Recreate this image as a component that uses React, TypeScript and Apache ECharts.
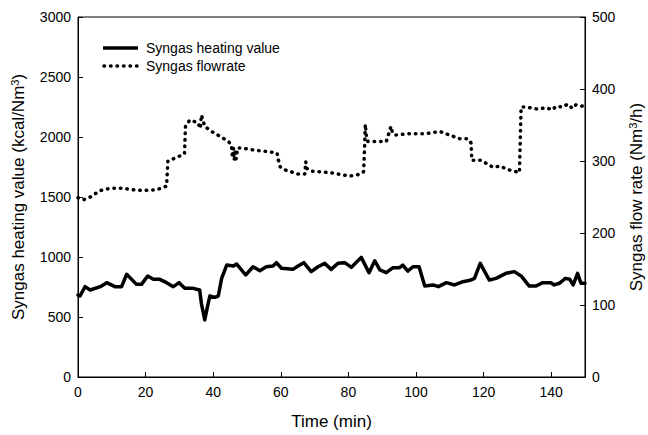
import React, { useEffect, useRef } from "react";
import * as echarts from "echarts";

const hvTime = [0, 0.6, 2.1, 3.6, 6.6, 8.5, 10.9, 12.9, 14.4, 17.3, 18.8, 20.6, 22.3, 24.2, 26.2, 28.2, 29.9, 31.6, 34.1, 36, 36.5, 37.5, 38.2, 39, 40.5, 41.5, 42.5, 44, 46, 46.9, 49.6, 51.8, 53.8, 55.7, 57.7, 58.7, 60.2, 63.6, 65.1, 66.8, 69, 71, 73, 74.9, 76.9, 78.9, 80.9, 83.8, 86.1, 87.8, 89.3, 91.2, 93.2, 95.1, 96.1, 97.6, 99.1, 100.9, 102.6, 105.1, 106.6, 109, 111.4, 113.9, 116.3, 117.3, 119, 121.7, 123.7, 126.6, 129.1, 131.1, 133.5, 135.5, 137.5, 139.9, 140.9, 142.4, 144.2, 145.5, 146.5, 147.8, 148.8, 150];
const hvValue = [683, 675, 753, 725, 753, 786, 753, 753, 856, 772, 772, 842, 814, 814, 786, 753, 786, 739, 739, 725, 614, 475, 572, 675, 664, 675, 822, 933, 925, 942, 850, 919, 886, 919, 925, 953, 906, 897, 925, 953, 878, 919, 947, 897, 947, 953, 914, 997, 869, 969, 892, 869, 911, 911, 933, 883, 919, 919, 758, 767, 753, 786, 767, 794, 808, 822, 947, 808, 822, 864, 878, 842, 758, 758, 786, 786, 767, 781, 822, 814, 767, 864, 781, 781];

const flowTime = [0, 1.6, 3.6, 6.6, 9.5, 13.4, 16.3, 19.3, 23.2, 26.2, 26.6, 27.2, 29.2, 31.5, 31.8, 33.1, 35.5, 36.2, 36.5, 37.5, 39.5, 42.5, 44.5, 45.4, 45.7, 46.0, 46.2, 46.5, 46.8, 47.2, 48.3, 52.3, 56.2, 58.9, 59.3, 59.8, 61.6, 65.1, 67.1, 67.4, 67.6, 69, 74.4, 80.4, 82.8, 84.5, 84.8, 85.0, 85.3, 85.8, 91.2, 92.6, 93.0, 93.6, 98.1, 103, 107, 112.9, 115.3, 116.3, 116.5, 119.2, 122.9, 124.7, 127.9, 130.6, 131.1, 132.5, 136, 138.5, 140.4, 141.4, 143.4, 144.9, 146.3, 147.3, 148.8, 150];
const flowValue = [249, 246, 250, 259, 262, 262, 260, 259, 260, 265, 300, 301, 305, 310, 348, 357, 353, 345, 364, 348, 341, 333, 327, 322, 305, 318, 301, 312, 303, 318, 318, 315, 313, 311, 301, 292, 287, 282, 282, 299, 290, 286, 284, 279, 281, 285, 320, 351, 336, 327, 327, 348, 340, 336, 338, 338, 341, 331, 331, 325, 301, 301, 291, 293, 287, 284, 375, 375, 372, 374, 371, 376, 375, 379, 373, 378, 376, 377];

const seriesNames = ["Syngas heating value", "Syngas flowrate"];

const FONT = "'Liberation Sans', Arial, Helvetica, sans-serif";
const DOT = [0.5, 6];

export default function App() {
  const ref = useRef<HTMLDivElement>(null);
  useEffect(() => {
    if (!ref.current) return;
    const chart = echarts.init(ref.current, null, { renderer: "svg" });
    const axisCommon = {
      axisLine: { show: true, lineStyle: { color: "#000", width: 1 } },
      axisTick: { show: true, inside: true, length: 5, lineStyle: { color: "#000" } },
      splitLine: { show: false },
    };
    const fmt = (v: number) => String(v);
    const richName = {
      a: { fontSize: 17, color: "#000", fontFamily: FONT },
      s: { fontSize: 11, color: "#000", fontFamily: FONT, verticalAlign: "top", padding: [0, 0, 8, 0] },
    };
    chart.setOption({
      animation: false,
      backgroundColor: "#fff",
      textStyle: { fontFamily: FONT, color: "#000" },
      grid: {
        left: 78, right: 63, top: 17, bottom: 58,
        outerBoundsMode: "none",
        containLabel: false,
        show: true, borderColor: "#000", borderWidth: 1, backgroundColor: "transparent",
      },
      graphic: [
        { type: "line", shape: { x1: 103, y1: 48, x2: 138, y2: 48 }, style: { stroke: "#000", lineWidth: 3.5 } },
        { type: "text", x: 146, y: 48, style: { text: seriesNames[0], fontSize: 14, fontFamily: FONT, fill: "#000", verticalAlign: "middle" } },
        { type: "line", shape: { x1: 104, y1: 66, x2: 138, y2: 66 }, style: { stroke: "#000", lineWidth: 3.5, lineDash: DOT, lineCap: "round" } },
        { type: "text", x: 146, y: 66, style: { text: seriesNames[1], fontSize: 14, fontFamily: FONT, fill: "#000", verticalAlign: "middle" } },
      ],
      xAxis: {
        type: "value",
        min: 0,
        max: 150,
        interval: 20,
        ...axisCommon,
        axisLabel: { fontSize: 14, color: "#000", margin: 8, fontFamily: FONT, showMaxLabel: false, formatter: fmt },
        name: "Time (min)",
        nameLocation: "middle",
        nameGap: 36,
        nameTextStyle: { fontSize: 17, color: "#000", fontFamily: FONT },
      },
      yAxis: [
        {
          type: "value",
          min: 0,
          max: 3000,
          interval: 500,
          position: "left",
          ...axisCommon,
          axisLabel: { fontSize: 14, color: "#000", margin: 7, fontFamily: FONT, formatter: fmt },
          name: "{a|Syngas heating value (kcal/Nm}{s|3}{a|)}",
          nameLocation: "middle",
          nameRotate: 90,
          nameGap: 50,
          nameTextStyle: { fontFamily: FONT, rich: richName },
        },
        {
          type: "value",
          min: 0,
          max: 500,
          interval: 100,
          position: "right",
          ...axisCommon,
          axisLabel: { fontSize: 14, color: "#000", margin: 7, fontFamily: FONT, formatter: fmt },
          name: "{a|Syngas flow rate (Nm}{s|3}{a|/h)}",
          nameLocation: "middle",
          nameRotate: 90,
          nameGap: 42,
          nameTextStyle: { fontFamily: FONT, rich: richName },
        },
      ],
      series: [
        {
          name: seriesNames[0],
          type: "line",
          yAxisIndex: 0,
          data: hvTime.map((t, i) => [t, hvValue[i]]),
          symbol: "none",
          lineStyle: { color: "#000", width: 3.5, join: "round", cap: "round" },
          itemStyle: { color: "#000" },
          z: 3,
        },
        {
          name: seriesNames[1],
          type: "line",
          yAxisIndex: 1,
          data: flowTime.map((t, i) => [t, flowValue[i]]),
          symbol: "none",
          lineStyle: { color: "#000", width: 3.5, type: DOT, cap: "round", join: "round" },
          itemStyle: { color: "#000" },
          z: 2,
        },
      ],
    });
    return () => chart.dispose();
  }, []);
  return <div ref={ref} style={{ position: "absolute", left: 0, top: 0, width: 648, height: 435 }} />;
}
